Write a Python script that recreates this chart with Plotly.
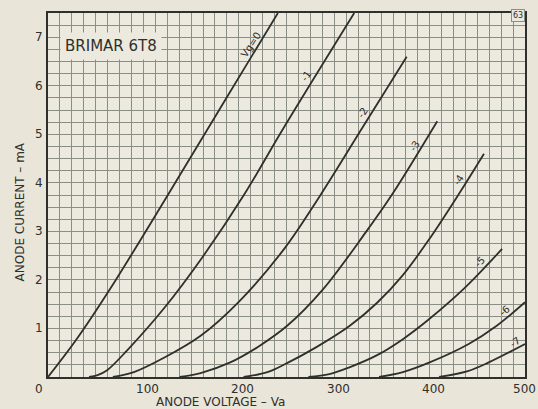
import plotly.graph_objects as go

# ---- data (anode voltage V, anode current mA) ----
grid_bias = ["Vg=0", "-1", "-2", "-3", "-4", "-5", "-6", "-7"]

va_0 = [0, 29, 64, 125, 187, 241]
ia_0 = [0, 0.75, 1.78, 3.73, 5.75, 7.5]

va_1 = [43, 52, 62, 83, 121, 163, 206, 246, 321]
ia_1 = [0, 0.04, 0.14, 0.55, 1.4, 2.5, 3.77, 5.1, 7.5]

va_2 = [68, 90, 121, 160, 200, 248, 285, 330, 376]
ia_2 = [0, 0.1, 0.39, 0.85, 1.55, 2.65, 3.73, 5.15, 6.6]

va_3 = [138, 160, 191, 220, 251, 288, 333, 361, 408]
ia_3 = [0, 0.08, 0.30, 0.62, 1.06, 1.8, 2.98, 3.77, 5.27]

va_4 = [205, 230, 250, 280, 316, 345, 372, 400, 431, 457]
ia_4 = [0, 0.1, 0.28, 0.6, 1.05, 1.53, 2.1, 2.85, 3.78, 4.6]

va_5 = [273, 295, 316, 345, 372, 400, 436, 476]
ia_5 = [0, 0.06, 0.2, 0.45, 0.78, 1.2, 1.82, 2.64]

va_6 = [347, 372, 400, 441, 470, 500]
ia_6 = [0, 0.1, 0.3, 0.68, 1.05, 1.54]

va_7 = [410, 440, 462, 500]
ia_7 = [0, 0.12, 0.3, 0.68]

# curve label anchor points (V, mA) and angles
label_v = [213, 270, 330, 385, 431, 453, 479, 489]
label_i = [6.85, 6.2, 5.44, 4.76, 4.06, 2.37, 1.36, 0.72]
label_angle = [-57, -56, -56, -56, -56, -45, -40, -35]

x_tick_vals = [0, 100, 200, 300, 400, 500]
x_tick_text = ["0", "100", "200", "300", "400", "500"]
y_tick_vals = [1, 2, 3, 4, 5, 6, 7]
y_tick_text = ["1", "2", "3", "4", "5", "6", "7"]

curves = [(va_0, ia_0), (va_1, ia_1), (va_2, ia_2), (va_3, ia_3),
          (va_4, ia_4), (va_5, ia_5), (va_6, ia_6), (va_7, ia_7)]

PAPER = "#e9e5d9"
PLOT = "#ece9df"
GRID = "#8a8e84"
INK = "#2f2f2b"
FONT = "DejaVu Sans"

fig = go.Figure()
for (v, i), name in zip(curves, grid_bias):
    fig.add_trace(go.Scatter(x=v, y=i, mode="lines", name=name,
                             line=dict(color=INK, width=1.8, shape="spline", smoothing=1.0),
                             showlegend=False, hoverinfo="skip"))

annotations = []
for txt, v, i, ang in zip(grid_bias, label_v, label_i, label_angle):
    annotations.append(dict(x=v, y=i, xref="x", yref="y", text=txt, showarrow=False,
                            textangle=ang, font=dict(family=FONT, size=10, color=INK)))

for val, txt in zip(x_tick_vals, x_tick_text):
    shift = -9 if val == 0 else (-1 if val == 500 else 4)
    annotations.append(dict(x=val, y=0, xref="x", yref="y", text=txt, showarrow=False,
                            yshift=-12, xshift=shift,
                            font=dict(family=FONT, size=12, color=INK)))
for val, txt in zip(y_tick_vals, y_tick_text):
    annotations.append(dict(x=0, y=val, xref="x", yref="y", text=txt, showarrow=False,
                            xshift=-9, font=dict(family=FONT, size=12, color=INK)))

annotations += [
    dict(x=0.1315, y=0.909, xref="paper", yref="paper", text="BRIMAR 6T8", showarrow=False,
         xanchor="center", yanchor="middle",
         bgcolor=PLOT, borderpad=4, font=dict(family=FONT, size=15, color=INK)),
    dict(x=0.985, y=0.992, xref="paper", yref="paper", text="63", showarrow=False,
         xanchor="center", yanchor="middle",
         bgcolor=PLOT, bordercolor=GRID, borderwidth=1, borderpad=1,
         font=dict(family=FONT, size=8, color=INK)),
    dict(x=-0.058, y=0.453, xref="paper", yref="paper", text="ANODE CURRENT \u2013 mA",
         xanchor="center", yanchor="middle",
         showarrow=False, textangle=-90, font=dict(family=FONT, size=12, color=INK)),
    dict(x=0.361, y=-0.068, xref="paper", yref="paper", text="ANODE VOLTAGE \u2013 Va",
         xanchor="center", yanchor="middle",
         showarrow=False, font=dict(family=FONT, size=12, color=INK)),
]

fig.update_layout(
    width=538, height=409,
    margin=dict(l=48, r=11, t=13, b=32),
    paper_bgcolor=PAPER, plot_bgcolor=PLOT,
    annotations=annotations,
    xaxis=dict(range=[0, 500], dtick=12.5, tick0=0, showticklabels=False, ticks="",
               showgrid=True, gridcolor=GRID, gridwidth=1, zeroline=False,
               showline=True, linecolor=INK, linewidth=1.5, mirror=True),
    yaxis=dict(range=[0, 7.5], dtick=0.25, tick0=0, showticklabels=False, ticks="",
               showgrid=True, gridcolor=GRID, gridwidth=1, zeroline=False,
               showline=True, linecolor=INK, linewidth=1.5, mirror=True),
)

fig.write_html("out.html", config={"displayModeBar": False},
               post_script="document.body.style.margin='0';document.body.style.background='%s';" % PAPER)
